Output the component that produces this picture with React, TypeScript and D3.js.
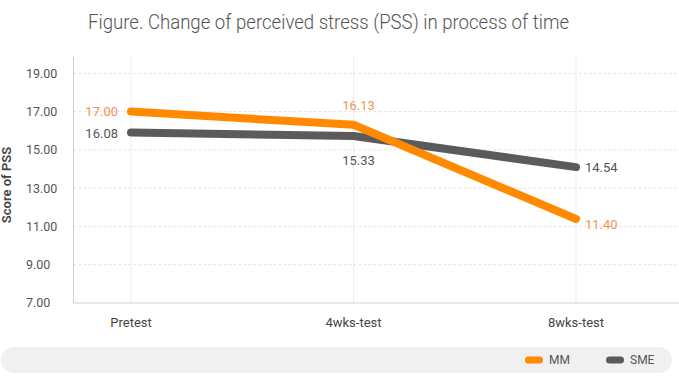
import React from "react";
import * as d3 from "d3";

const categories = ["Pretest", "4wks-test", "8wks-test"];
const seriesNames = ["MM", "SME"];
const mmValues = [17.0, 16.31, 11.39];
const smeValues = [15.91, 15.72, 14.1];
const mmLabels = ["17.00", "16.13", "11.40"];
const smeLabels = ["16.08", "15.33", "14.54"];
const yTicks = [7, 9, 11, 13, 15, 17, 19];
const colors = ["#ff8a00", "#5b5b5b"];
const labelColors = ["#f39155", "#555555"];

const W = 679;
const H = 377;

export default function App() {
  const x = d3.scalePoint<string>().domain(categories).range([131, 576]);
  const y = d3.scaleLinear().domain([7, 19]).range([303, 73.3]);
  const plotLeft = 73.5;
  const plotRight = 679;
  const plotTop = 57;

  const line = d3
    .line<number>()
    .x((_, i) => x(categories[i]) as number)
    .y((d) => y(d));

  const series = [
    { name: seriesNames[0], values: mmValues, labels: mmLabels },
    { name: seriesNames[1], values: smeValues, labels: smeLabels },
  ];

  const font = "Roboto, 'Noto Sans', sans-serif";

  const labelPos = (si: number, ci: number) => {
    const px = x(categories[ci]) as number;
    const py = y(series[si].values[ci]);
    if (ci === 0) return { x: px - 13, y: si === 0 ? py : py + 1.5, anchor: "end" };
    if (ci === 1) return { x: px + 5, y: si === 0 ? py - 19 : py + 24, anchor: "middle" };
    return { x: px + 9, y: si === 0 ? py + 5 : py, anchor: "start" };
  };

  return (
    <svg
      width={W}
      height={H}
      style={{ position: "absolute", left: 0, top: 0, background: "#fff" }}
      fontFamily={font}
    >
      <text
        x={88}
        y={28.5}
        fontSize={21}
        fontWeight={300}
        fill="#555"
        textLength={481}
        lengthAdjust="spacingAndGlyphs"
      >
        Figure. Change of perceived stress (PSS) in process of time
      </text>

      {/* horizontal dashed grid */}
      {yTicks.slice(1).map((t) => (
        <line
          key={"g" + t}
          x1={plotLeft}
          x2={plotRight}
          y1={y(t)}
          y2={y(t)}
          stroke="#e3e3e3"
          strokeDasharray="3,2"
        />
      ))}
      {/* vertical category grid */}
      {categories.map((c) => (
        <line
          key={"v" + c}
          x1={x(c) as number}
          x2={x(c) as number}
          y1={plotTop}
          y2={y(7)}
          stroke="#eeeeee"
        />
      ))}
      {/* axes */}
      <line x1={plotLeft} x2={plotLeft} y1={plotTop} y2={y(7)} stroke="#cfcfcf" />
      <line x1={plotLeft} x2={plotRight} y1={y(7)} y2={y(7)} stroke="#cfcfcf" />

      {yTicks.map((t) => (
        <text
          key={"t" + t}
          x={26}
          y={y(t)}
          dy="0.35em"
          fontSize={12.5}
          fill="#555"
        >
          {t.toFixed(2)}
        </text>
      ))}
      <text
        transform={`translate(11,185) rotate(-90)`}
        textAnchor="middle"
        fontSize={13}
        fontWeight={600}
        fill="#444"
      >
        Score of PSS
      </text>

      {categories.map((c) => (
        <text
          key={"x" + c}
          x={x(c) as number}
          y={322}
          dy="0.35em"
          textAnchor="middle"
          fontSize={13}
          fill="#444"
        >
          {c}
        </text>
      ))}

      {/* lines: SME first, then MM on top */}
      {[1, 0].map((si) => (
        <path
          key={"l" + si}
          d={line(series[si].values) || ""}
          fill="none"
          stroke={colors[si]}
          strokeWidth={8}
          strokeLinecap="round"
          strokeLinejoin="round"
        />
      ))}

      {series.map((s, si) =>
        s.labels.map((lb, ci) => {
          const p = labelPos(si, ci);
          return (
            <text
              key={"lb" + si + ci}
              x={p.x}
              y={p.y}
              dy="0.35em"
              textAnchor={p.anchor as any}
              fontSize={13}
              fill={labelColors[si]}
            >
              {lb}
            </text>
          );
        })
      )}

      {/* legend bar */}
      <rect x={1} y={347} width={671} height={26} rx={13} fill="#f0f0f0" />
      {seriesNames.map((n, i) => (
        <g key={"lg" + n} transform={`translate(${i === 0 ? 525 : 606},360)`}>
          <rect x={0} y={-3.5} width={18} height={7} rx={3.5} fill={colors[i]} />
          <text x={24} y={0} dy="0.35em" fontSize={12} fill="#555">
            {n}
          </text>
        </g>
      ))}
    </svg>
  );
}
